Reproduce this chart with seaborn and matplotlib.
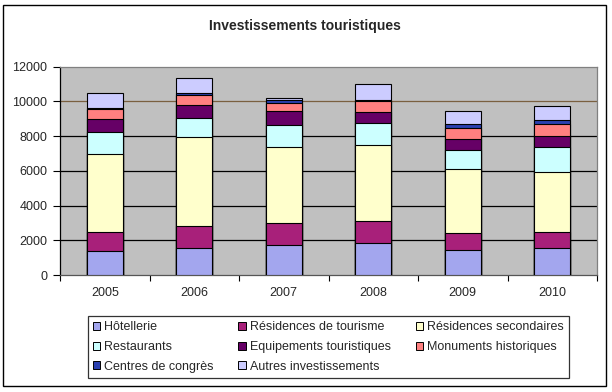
import matplotlib.pyplot as plt
import matplotlib.patches as mpatches
import seaborn as sns
import numpy as np

sns.set_style("white")
plt.rcParams['font.family'] = ['Liberation Sans', 'DejaVu Sans']

# Data
years = ["2005", "2006", "2007", "2008", "2009", "2010"]
hotellerie = [1370, 1540, 1710, 1850, 1430, 1540]
residences_tourisme = [1100, 1270, 1270, 1250, 980, 930]
residences_secondaires = [4490, 5130, 4390, 4380, 3700, 3470]
restaurants = [1250, 1080, 1250, 1250, 1080, 1430]
equipements = [750, 790, 850, 670, 650, 640]
monuments = [580, 540, 460, 600, 600, 670]
centres_congres = [80, 130, 150, 100, 270, 250]
autres = [870, 850, 100, 880, 730, 810]

series_labels = ["Hôtellerie", "Résidences de tourisme", "Résidences secondaires",
                 "Restaurants", "Equipements touristiques", "Monuments historiques",
                 "Centres de congrès", "Autres investissements"]
series_values = [hotellerie, residences_tourisme, residences_secondaires, restaurants,
                 equipements, monuments, centres_congres, autres]
series_colors = ["#A3A6EE", "#A8207A", "#FFFFCC", "#CCFFFF",
                 "#660066", "#FF8080", "#2A40B0", "#CCCCFF"]

fig = plt.figure(figsize=(6.12, 3.92), dpi=100)
ax = fig.add_axes([60 / 612, 1 - 275 / 392, 537 / 612, (275 - 66.7) / 392])
ax.set_facecolor("#C0C0C0")

# stacked bars: draw cumulative totals from the top layer down
cum = np.cumsum(np.array(series_values), axis=0)
for i in range(len(series_values) - 1, -1, -1):
    sns.barplot(x=years, y=cum[i], color=series_colors[i], width=0.4,
                edgecolor="black", linewidth=0.8, saturation=1,
                errorbar=None, ax=ax, zorder=3)

ax.set_xlim(-0.5, 5.5)
ax.set_ylim(0, 12000)
ax.set_yticks(np.arange(0, 12001, 2000))
ax.set_xlabel("")
ax.set_ylabel("")

# gridlines
for v in range(2000, 12000, 2000):
    ax.axhline(v, color="#7A6040" if v == 10000 else "black", linewidth=0.9, zorder=1)

# category axis ticks between categories
ax.set_xticks(np.arange(-0.5, 6, 1), minor=True)
ax.tick_params(axis="x", which="major", length=0, pad=9, labelsize=9)
ax.tick_params(axis="x", which="minor", length=4, width=0.8, color="black", direction="out")
ax.tick_params(axis="y", length=5, width=0.8, color="black", direction="out", pad=4, labelsize=9)
ax.xaxis.set_ticks_position("bottom")
ax.yaxis.set_ticks_position("left")

for side in ["top", "right"]:
    ax.spines[side].set_color("#808080")
    ax.spines[side].set_linewidth(0.9)
ax.spines["left"].set_color("black")
ax.spines["bottom"].set_color("#555555")
ax.spines["left"].set_linewidth(0.9)
ax.spines["bottom"].set_linewidth(0.9)

# title
fig.text(0.499, 1 - 26 / 392, "Investissements touristiques", ha="center", va="center",
         fontsize=10, fontweight="bold")

# legend (row-major order like the original)
order = [0, 3, 6, 1, 4, 7, 2, 5]
handles = [mpatches.Patch(facecolor=series_colors[i], edgecolor="black", linewidth=0.7,
                          label=series_labels[i]) for i in order]
leg = fig.legend(handles=handles, ncol=3, loc="center",
                 bbox_to_anchor=(328 / 612, 1 - 347 / 392), fontsize=9,
                 frameon=True, fancybox=False, edgecolor="black",
                 handlelength=0.6, handleheight=0.6, handletextpad=0.3,
                 columnspacing=2.0, labelspacing=0.62, borderpad=0.4)
leg.get_frame().set_linewidth(0.9)

# outer border
fig.patches.append(mpatches.Rectangle((3 / 612, 1 - 386 / 392), 603 / 612, 381 / 392,
                                      transform=fig.transFigure, fill=False,
                                      edgecolor="black", linewidth=1))

fig.savefig("out.png", dpi=100)
